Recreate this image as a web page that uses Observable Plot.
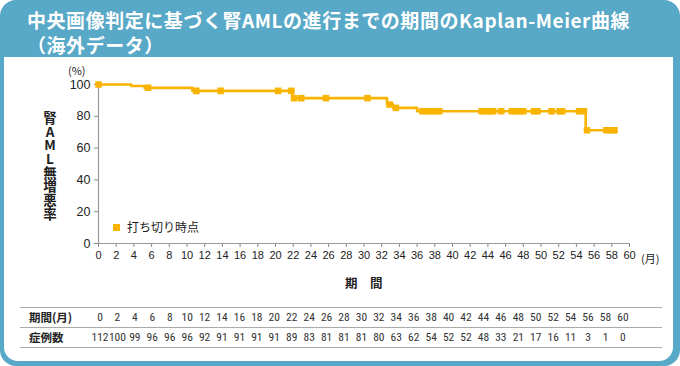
<!DOCTYPE html>
<html><head><meta charset="utf-8">
<script src="https://cdn.jsdelivr.net/npm/d3@7"></script>
<script src="https://cdn.jsdelivr.net/npm/@observablehq/plot@0.6"></script>
<style>
html,body{margin:0;padding:0;background:#fff;}
#frame{position:relative;width:680px;height:366px;background:#58a8c7;border-radius:16px;overflow:hidden;font-family:"Noto Sans CJK JP","Noto Sans",sans-serif;color:#222;}
#title{position:absolute;left:27px;top:7px;color:#fff;font-weight:700;font-size:19px;line-height:25px;letter-spacing:0.55px;white-space:nowrap;}
#panel{position:absolute;left:4px;right:7px;top:57px;bottom:5px;background:#fff;border-radius:0 0 14px 14px;}
#chart{position:absolute;left:0;top:56px;}
.abs{position:absolute;white-space:nowrap;}
#ylab{position:absolute;left:42px;top:111px;font-weight:700;font-size:13.5px;line-height:16px;writing-mode:vertical-rl;text-orientation:upright;letter-spacing:0.2px;white-space:nowrap;}
.tline{position:absolute;left:20px;width:642px;height:0;border-top:1.5px solid #aaa;}
.tlab{position:absolute;left:29px;font-weight:700;font-size:11.5px;transform:translateY(-50%);}
.tval{position:absolute;font-family:"Liberation Sans Narrow","Roboto Condensed","Liberation Sans",sans-serif;font-size:11.5px;color:#333;transform:translate(-50%,-50%);}
</style>
</head><body>
<div id="frame">
  <div id="title">中央画像判定に基づく腎AMLの進行までの期間のKaplan-Meier曲線<br>（海外データ）</div>
  <div id="panel"></div>
  <div id="chart"></div>
  <div class="abs" style="left:68px;top:62px;font-size:11px;">(%)</div>
  <div id="ylab"></div>
  <div class="abs" style="left:113px;top:223.5px;width:7px;height:7px;background:#f8b400;"></div>
  <div class="abs" style="left:127px;top:219px;font-size:12px;line-height:16px;">打ち切り時点</div>
  <div class="abs" style="left:641px;top:251px;font-size:11px;line-height:14px;">(月)</div>
  <div class="abs" style="left:345px;top:275px;font-size:12.5px;line-height:16px;font-weight:700;">期　間</div>
  <div id="table"></div>
</div>
<script>
// Kaplan-Meier step curve (months, % free of AML progression)
const stepTimes = [0, 3.7, 5.2, 10.6, 21.9, 32.6, 33.3, 36.0, 55.05, 58.4];
const stepSurv  = [100, 99.1, 97.9, 96.0, 91.4, 87.4, 85.3, 83.2, 71.2, 71.2];
// censoring times (months)
const censorTimes = [0, 5.6, 11.05, 13.8, 20.3, 21.8, 22.1, 22.9, 25.7, 30.4, 32.9, 33.6,
  36.6, 37.1, 37.6, 38.0, 38.5, 43.3, 43.8, 44.2, 44.6, 45.5, 46.7, 47.1, 47.6, 48.0,
  49.2, 49.6, 51.2, 52.1, 52.4, 54.3, 54.85, 55.2, 57.4, 57.9, 58.3];
const xTicks = [0,2,4,6,8,10,12,14,16,18,20,22,24,26,28,30,32,34,36,38,40,42,44,46,48,50,52,54,56,58,60];
const yTicks = [0,20,40,60,80,100];
// number at risk table
const tableMonths = [0,2,4,6,8,10,12,14,16,18,20,22,24,26,28,30,32,34,36,38,40,42,44,46,48,50,52,54,56,58,60];
const atRisk = [112,100,99,96,96,96,92,91,91,91,91,89,83,81,81,81,80,63,62,54,52,52,48,33,21,17,16,11,3,1,0];
const yLabel = "腎AML無増悪率";

const curve = stepTimes.map((t, i) => ({t, s: stepSurv[i]}));
const survAt = t => { let s = stepSurv[0]; for (let i = 0; i < stepTimes.length; i++) if (stepTimes[i] <= t) s = stepSurv[i]; return s; };
const censors = censorTimes.map(t => ({t, s: survAt(t)}));
const color = "#f8b400";

const plot = Plot.plot({
  width: 680, height: 240,
  marginTop: 28, marginBottom: 53, marginLeft: 98, marginRight: 51,
  style: {background: "transparent", fontFamily: "'Liberation Sans', Arial, sans-serif", color: "#222"},
  x: {domain: [0, 60]},
  y: {domain: [0, 100]},
  marks: [
    Plot.axisX({ticks: xTicks, tickSize: 4, tickPadding: 4, fontSize: 11, stroke: "#888", label: null, tickFormat: d => d}),
    Plot.axisY({ticks: yTicks, tickSize: 4, tickPadding: 4, fontSize: 12.5, stroke: "#888", label: null}),
    Plot.ruleY([0], {stroke: "#999", strokeWidth: 1.2}),
    Plot.ruleX([0], {stroke: "#999", strokeWidth: 1.2}),
    Plot.line(curve, {x: "t", y: "s", curve: "step-after", stroke: color, strokeWidth: 2.6}),
    Plot.dot(censors, {x: "t", y: "s", symbol: "square", r: 3.7, fill: color, stroke: "none"})
  ]
});
document.getElementById("chart").appendChild(plot);

document.getElementById("ylab").textContent = yLabel;

const tb = document.getElementById("table");
[307, 327, 347].forEach(y => { const l = document.createElement("div"); l.className = "tline"; l.style.top = y + "px"; tb.appendChild(l); });
const rows = [{label: "期間(月)", y: 317, vals: tableMonths}, {label: "症例数", y: 337, vals: atRisk}];
rows.forEach(r => {
  const lab = document.createElement("div"); lab.className = "tlab"; lab.style.top = r.y + "px"; lab.textContent = r.label; tb.appendChild(lab);
  r.vals.forEach((v, i) => {
    const s = document.createElement("div"); s.className = "tval";
    s.style.left = (100 + i * 17.43) + "px"; s.style.top = r.y + "px"; s.textContent = v; tb.appendChild(s);
  });
});
</script>
</body></html>
